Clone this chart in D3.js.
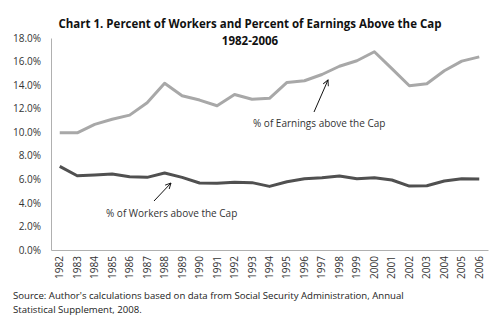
<!DOCTYPE html>
<html>
<head>
<meta charset="utf-8">
<script src="https://cdn.jsdelivr.net/npm/d3@7"></script>
<style>
  body { margin: 0; background: #fff; }
  svg { display: block; }
  text { font-family: "Open Sans", "Liberation Sans", sans-serif; }
</style>
</head>
<body>
<div id="chart"></div>
<script>
const years = ["1982", "1983", "1984", "1985", "1986", "1987", "1988", "1989", "1990", "1991", "1992", "1993",
  "1994", "1995", "1996", "1997", "1998", "1999", "2000", "2001", "2002", "2003", "2004", "2005", "2006"];

// percent of earnings above the taxable maximum
const earningsPct = [9.95, 9.95, 10.67, 11.1, 11.45, 12.5, 14.15, 13.1, 12.73, 12.25, 13.2, 12.8,
  12.88, 14.23, 14.37, 14.9, 15.6, 16.07, 16.83, 15.4, 13.95, 14.12, 15.22, 16.04, 16.4];

// percent of workers above the taxable maximum
const workersPct = [7.1, 6.3, 6.37, 6.45, 6.22, 6.17, 6.54, 6.17, 5.69, 5.66, 5.75, 5.72,
  5.4, 5.8, 6.05, 6.14, 6.28, 6.05, 6.14, 5.94, 5.43, 5.46, 5.86, 6.05, 6.03];

const yTicks = [0, 2, 4, 6, 8, 10, 12, 14, 16, 18];

const width = 500, height = 327;
const margin = { top: 38, right: 12, bottom: 77, left: 51 };

const svg = d3.select("#chart").append("svg")
  .attr("width", width)
  .attr("height", height);

const x = d3.scaleBand()
  .domain(years)
  .range([margin.left, width - margin.right]);

const y = d3.scaleLinear()
  .domain([0, 18])
  .range([height - margin.bottom, margin.top]);

// title
svg.append("text")
  .attr("x", 250).attr("y", 28)
  .attr("text-anchor", "middle")
  .style("font-size", "11.5px").style("font-weight", "bold")
  .attr("fill", "#111")
  .text("Chart 1. Percent of Workers and Percent of Earnings Above the Cap");
svg.append("text")
  .attr("x", 250).attr("y", 45)
  .attr("text-anchor", "middle")
  .style("font-size", "11.5px").style("font-weight", "bold")
  .attr("fill", "#111")
  .text("1982-2006");

// y axis
const yAxis = svg.append("g")
  .attr("transform", `translate(${margin.left},0)`)
  .call(d3.axisLeft(y).tickValues(yTicks).tickSize(0).tickPadding(10)
    .tickFormat(d => d3.format(".1f")(d) + "%"));
yAxis.select(".domain").attr("stroke", "#b0b0b0");
yAxis.selectAll("text").attr("fill", "#333").style("font-size", "10px");

// x axis
const xAxis = svg.append("g")
  .attr("transform", `translate(0,${height - margin.bottom})`)
  .call(d3.axisBottom(x).tickSize(0).tickSizeOuter(0));
xAxis.select(".domain").attr("stroke", "#b0b0b0");
xAxis.selectAll("text")
  .attr("fill", "#333")
  .style("font-size", "10px")
  .attr("transform", "rotate(-90)")
  .attr("text-anchor", "end")
  .attr("dy", "0.35em")
  .attr("x", -6)
  .attr("y", 0);

const line = d3.line()
  .x((d, i) => x(years[i]) + x.bandwidth() / 2)
  .y(d => y(d));

svg.append("path")
  .datum(earningsPct)
  .attr("fill", "none")
  .attr("stroke", "#a8a8a8")
  .attr("stroke-width", 3)
  .attr("stroke-linejoin", "round")
  .attr("d", line);

svg.append("path")
  .datum(workersPct)
  .attr("fill", "none")
  .attr("stroke", "#505050")
  .attr("stroke-width", 3)
  .attr("stroke-linejoin", "round")
  .attr("d", line);

// arrow marker
svg.append("defs").append("marker")
  .attr("id", "arrow")
  .attr("viewBox", "0 0 10 10")
  .attr("refX", 9).attr("refY", 5)
  .attr("markerWidth", 7).attr("markerHeight", 7)
  .attr("orient", "auto")
  .append("path")
  .attr("d", "M1,1 L9,5 L1,9")
  .attr("fill", "none")
  .attr("stroke", "#111")
  .attr("stroke-width", 1.3);

// annotations
svg.append("line")
  .attr("x1", 314).attr("y1", 112).attr("x2", 328).attr("y2", 80)
  .attr("stroke", "#111").attr("stroke-width", 1)
  .attr("marker-end", "url(#arrow)");
svg.append("text")
  .attr("x", 253).attr("y", 127)
  .style("font-size", "10px").attr("fill", "#333")
  .text("% of Earnings above the Cap");

svg.append("line")
  .attr("x1", 154).attr("y1", 201).attr("x2", 171).attr("y2", 183)
  .attr("stroke", "#111").attr("stroke-width", 1)
  .attr("marker-end", "url(#arrow)");
svg.append("text")
  .attr("x", 106).attr("y", 217)
  .style("font-size", "10px").attr("fill", "#333")
  .text("% of Workers above the Cap");

// source note
svg.append("text")
  .attr("x", 13).attr("y", 299)
  .style("font-size", "9.6px").attr("fill", "#222")
  .text("Source: Author's calculations based on data from Social Security Administration, Annual");
svg.append("text")
  .attr("x", 13).attr("y", 313)
  .style("font-size", "9.6px").attr("fill", "#222")
  .text("Statistical Supplement, 2008.");
</script>
</body>
</html>
